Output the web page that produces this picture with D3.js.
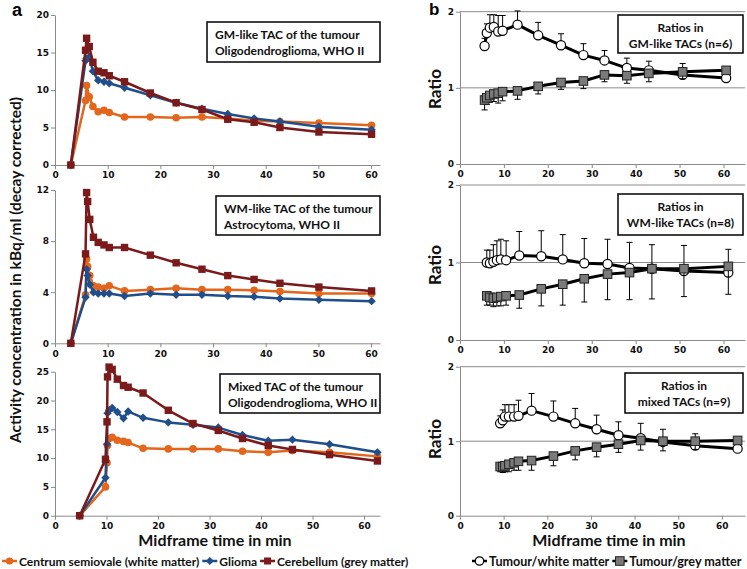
<!DOCTYPE html>
<html><head><meta charset="utf-8">
<script src="https://cdn.jsdelivr.net/npm/d3@7"></script>
<style>body{margin:0;background:#fff}svg{display:block}</style>
</head><body>
<script>
// ---------- DATA ----------
// Panel a: time-activity curves (kBq/ml)
const timeGM = [3, 5.8, 6.0, 6.5, 7.2, 8.2, 9.3, 10.3, 13.2, 18.1, 23.0, 27.9, 32.8, 37.8, 42.7, 50.1, 60.1];
const gmCentrum = [0, 8.6, 10.6, 9.1, 7.8, 7.1, 7.3, 7.0, 6.4, 6.4, 6.3, 6.4, 6.2, 5.9, 5.8, 5.6, 5.3];
const gmGlioma = [0, 13.9, 14.2, 14.4, 12.5, 11.3, 11.1, 10.9, 10.3, 9.3, 8.3, 7.5, 6.8, 6.2, 5.8, 5.1, 4.7];
const gmCerebellum = [0, 15.3, 16.9, 15.8, 13.7, 12.5, 12.3, 11.9, 11.1, 9.6, 8.3, 7.4, 6.1, 5.7, 5.0, 4.4, 4.1];

const timeWM = [3, 5.8, 6.0, 6.2, 6.6, 7.3, 8.2, 9.3, 10.3, 13.2, 18.1, 23.0, 27.9, 32.8, 37.8, 42.7, 50.1, 60.1];
const wmCentrum = [0, 3.8, 6.6, 6.0, 5.3, 4.5, 4.4, 4.3, 4.5, 4.1, 4.2, 4.3, 4.2, 4.2, 4.15, 4.05, 3.9, 3.9];
const wmGlioma = [0, 3.6, 5.8, 5.3, 4.6, 4.0, 3.9, 3.9, 3.9, 3.7, 3.9, 3.8, 3.8, 3.7, 3.65, 3.5, 3.4, 3.3];
const wmCerebellum = [0, 7.0, 11.8, 11.1, 9.7, 8.3, 7.9, 7.7, 7.5, 7.5, 6.9, 6.3, 5.8, 5.3, 5.0, 4.7, 4.4, 4.1];

const timeMix = [4.8, 9.8, 10.1, 10.2, 10.5, 11.1, 12.1, 13.3, 14.2, 17.1, 22.0, 26.8, 31.7, 36.4, 41.4, 46.1, 53.3, 62.6];
const mixCentrum = [0, 5.0, 9.2, 12.2, 13.4, 13.6, 13.1, 12.9, 12.7, 11.7, 11.6, 11.6, 11.6, 11.2, 11.0, 11.3, 11.0, 10.3];
const mixGlioma = [0, 6.6, 12.4, 17.8, 18.3, 18.7, 18.0, 16.9, 18.1, 17.0, 16.2, 15.8, 15.3, 14.0, 13.0, 13.2, 12.4, 11.0];
const mixCerebellum = [0, 9.8, 16.3, 24.1, 25.8, 25.4, 23.7, 22.6, 22.3, 21.3, 18.3, 16.0, 14.8, 13.4, 12.2, 11.5, 10.6, 9.5];

// Panel b: ratios (mean, SD)
const timeRGM = [5.6, 6.1, 6.8, 7.7, 8.7, 9.7, 13.1, 17.8, 23.0, 28.1, 32.9, 38.0, 43.0, 50.7, 60.6];
const rgmWhite = [1.55, 1.72, 1.79, 1.80, 1.74, 1.75, 1.83, 1.69, 1.56, 1.43, 1.36, 1.26, 1.23, 1.17, 1.13];
const rgmWhiteSD = [0.10, 0.12, 0.17, 0.16, 0.21, 0.20, 0.18, 0.17, 0.15, 0.15, 0.13, 0.13, 0.12, 0.15, 0.0];
const rgmGrey = [0.84, 0.87, 0.90, 0.92, 0.93, 0.95, 0.96, 1.02, 1.07, 1.09, 1.17, 1.16, 1.19, 1.21, 1.23];
const rgmGreySD = [0.13, 0.09, 0.09, 0.10, 0.13, 0.12, 0.11, 0.10, 0.09, 0.10, 0.09, 0.10, 0.11, 0.09, 0.0];

const timeRWM = [6.1, 6.8, 7.6, 8.4, 9.3, 10.5, 13.5, 18.5, 23.4, 28.3, 33.6, 38.6, 43.7, 51.0, 61.1];
const rwmWhite = [1.00, 0.99, 1.01, 1.03, 1.04, 1.03, 1.09, 1.08, 1.04, 0.99, 0.98, 0.93, 0.92, 0.89, 0.87];
const rwmWhiteSD = [0.16, 0.17, 0.22, 0.25, 0.26, 0.25, 0.31, 0.33, 0.32, 0.32, 0.32, 0.33, 0.31, 0.33, 0.30];
const rwmGrey = [0.57, 0.55, 0.54, 0.55, 0.56, 0.57, 0.58, 0.66, 0.72, 0.79, 0.85, 0.87, 0.92, 0.92, 0.95];
const rwmGreySD = [0.12, 0.10, 0.11, 0.11, 0.12, 0.12, 0.17, 0.22, 0.27, 0.30, 0.33, 0.35, 0.39, 0.36, 0.36];

const timeRMix = [9.2, 9.8, 10.3, 11.2, 12.4, 13.4, 16.4, 21.4, 26.4, 31.3, 36.3, 41.4, 46.5, 53.9, 63.6];
const rmixWhite = [1.24, 1.28, 1.33, 1.33, 1.33, 1.34, 1.41, 1.33, 1.24, 1.16, 1.08, 1.04, 0.99, 0.94, 0.90];
const rmixWhiteSD = [0.10, 0.14, 0.16, 0.16, 0.16, 0.21, 0.23, 0.21, 0.20, 0.19, 0.18, 0.20, 0.17, 0.16, 0.0];
const rmixGrey = [0.66, 0.66, 0.67, 0.69, 0.71, 0.73, 0.74, 0.80, 0.87, 0.92, 0.96, 1.01, 1.00, 1.00, 1.01];
const rmixGreySD = [0.07, 0.08, 0.08, 0.10, 0.10, 0.12, 0.13, 0.13, 0.12, 0.13, 0.11, 0.13, 0.13, 0.11, 0.0];

const xTicks = [0, 10, 20, 30, 40, 50, 60];
const yTicksGM = [0, 5, 10, 15, 20];
const yTicksWM = [0, 4, 8, 12];
const yTicksMix = [0, 5, 10, 15, 20, 25];
const yTicksRatio = [0, 1, 2];

const tacSeriesNames = ["Centrum semiovale (white matter)", "Glioma", "Cerebellum (grey matter)"];
const ratioSeriesNames = ["Tumour/white matter", "Tumour/grey matter"];
const boxTextsA = [["GM-like TAC of the tumour", "Oligodendroglioma, WHO II"],
                   ["WM-like TAC of the tumour", "Astrocytoma, WHO II"],
                   ["Mixed TAC of the tumour", "Oligodendroglioma, WHO II"]];
const boxTextsB = [["Ratios in", "GM-like TACs (n=6)"],
                   ["Ratios in", "WM-like TACs (n=8)"],
                   ["Ratios in", "mixed TACs (n=9)"]];

// ---------- STYLE ----------
const C_ORANGE = "#E2661C", C_BLUE = "#1F4E8A", C_RED = "#7A1A1A";
const TICKFONT = "'DejaVu Sans', Verdana, sans-serif";
const LABFONT = "Lato, 'Liberation Sans', sans-serif";
const AXISCOL = "#8a8a8a";

const svg = d3.select("body").append("svg").attr("width", 747).attr("height", 569)
  .style("background", "#fff");

function styleAxis(g) {
  g.select(".domain").attr("stroke", AXISCOL).attr("stroke-width", 1);
  g.selectAll(".tick line").attr("stroke", AXISCOL);
  g.selectAll(".tick text").attr("font-family", TICKFONT).attr("font-weight", "bold")
    .attr("font-size", 9).attr("fill", "#111");
}

function diamond(s) { return `M0,${-s}L${s},0L0,${s}L${-s},0Z`; }

function drawAxes(x, y, yTicks, grid) {
  const fmt = d3.format("d");
  const gx = svg.append("g").attr("transform", `translate(0,${y(0)})`)
    .call(d3.axisBottom(x).tickValues(xTicks).tickFormat(fmt).tickSize(4).tickPadding(3).tickSizeOuter(0));
  styleAxis(gx);
  const gy = svg.append("g").attr("transform", `translate(${x(0)},0)`)
    .call(d3.axisLeft(y).tickValues(yTicks).tickFormat(fmt).tickSize(4).tickPadding(2).tickSizeOuter(0));
  styleAxis(gy);
  if (grid) {
    yTicks.filter(t => t > 0).forEach(t => {
      svg.append("line").attr("x1", x(0)).attr("x2", x.range()[1])
        .attr("y1", y(t)).attr("y2", y(t)).attr("stroke", AXISCOL).attr("stroke-width", 1);
    });
  }
}

function drawTAC(lay, times, series, yTicks, box) {
  const x = d3.scaleLinear().domain([0, lay.xMax]).range([lay.x0, lay.x1]);
  const y = d3.scaleLinear().domain([0, yTicks[yTicks.length - 1]]).range([lay.y0, lay.y1]);
  drawAxes(x, y, yTicks, false);
  const line = d3.line().x(d => x(d[0])).y(d => y(d[1]));
  series.forEach(s => {
    const pts = times.map((t, i) => [t, s.values[i]]);
    svg.append("path").attr("d", line(pts)).attr("fill", "none")
      .attr("stroke", s.color).attr("stroke-width", 2.5).attr("stroke-linejoin", "round");
    const g = svg.append("g");
    pts.forEach(p => {
      if (s.shape === "circle") g.append("circle").attr("cx", x(p[0])).attr("cy", y(p[1])).attr("r", 3.8).attr("fill", s.color);
      else if (s.shape === "diamond") g.append("path").attr("d", diamond(4.2)).attr("transform", `translate(${x(p[0])},${y(p[1])})`).attr("fill", s.color);
      else g.append("rect").attr("x", x(p[0]) - 3.7).attr("y", y(p[1]) - 3.7).attr("width", 7.4).attr("height", 7.4).attr("fill", s.color);
    });
  });
  drawBox(lay.box, box, "start");
}

function drawRatio(lay, times, white, whiteSD, grey, greySD, box) {
  const x = d3.scaleLinear().domain([0, lay.xMax]).range([lay.x0, lay.x1]);
  const y = d3.scaleLinear().domain([0, 2]).range([lay.y0, lay.y1]);
  drawAxes(x, y, yTicksRatio, true);
  const line = d3.line().x(d => x(d[0])).y(d => y(d[1]));
  const cap = 3;
  const eb = svg.append("g").attr("stroke", "#000").attr("stroke-width", 1);
  times.forEach((t, i) => {
    if (whiteSD[i] > 0) {
      eb.append("line").attr("x1", x(t)).attr("x2", x(t)).attr("y1", y(white[i])).attr("y2", y(white[i] + whiteSD[i]));
      eb.append("line").attr("x1", x(t) - cap).attr("x2", x(t) + cap).attr("y1", y(white[i] + whiteSD[i])).attr("y2", y(white[i] + whiteSD[i]));
    }
  });
  svg.append("path").attr("d", line(times.map((t, i) => [t, white[i]]))).attr("fill", "none")
    .attr("stroke", "#000").attr("stroke-width", 3).attr("stroke-linejoin", "round");
  times.forEach((t, i) => {
    svg.append("circle").attr("cx", x(t)).attr("cy", y(white[i])).attr("r", 4.6)
      .attr("fill", "#fff").attr("stroke", "#000").attr("stroke-width", 1.2);
  });
  const eb2 = svg.append("g").attr("stroke", "#000").attr("stroke-width", 1);
  times.forEach((t, i) => {
    if (greySD[i] > 0) {
      eb2.append("line").attr("x1", x(t)).attr("x2", x(t)).attr("y1", y(grey[i])).attr("y2", y(grey[i] - greySD[i]));
      eb2.append("line").attr("x1", x(t) - cap).attr("x2", x(t) + cap).attr("y1", y(grey[i] - greySD[i])).attr("y2", y(grey[i] - greySD[i]));
    }
  });
  svg.append("path").attr("d", line(times.map((t, i) => [t, grey[i]]))).attr("fill", "none")
    .attr("stroke", "#000").attr("stroke-width", 3).attr("stroke-linejoin", "round");
  times.forEach((t, i) => {
    svg.append("rect").attr("x", x(t) - 4.3).attr("y", y(grey[i]) - 4.3).attr("width", 8.6).attr("height", 8.6)
      .attr("fill", "#7a7a7a").attr("stroke", "#222").attr("stroke-width", 1);
  });
  drawBox(lay.box, box, "middle");
}

function drawBox(b, lines, anchor) {
  svg.append("rect").attr("x", b[0]).attr("y", b[1]).attr("width", b[2]).attr("height", b[3])
    .attr("fill", "#fff").attr("stroke", "#000").attr("stroke-width", 1.5);
  const tx = anchor === "middle" ? b[0] + b[2] / 2 : b[0] + 8;
  lines.forEach((l, i) => {
    svg.append("text").attr("x", tx).attr("y", b[1] + 17 + i * 16).attr("text-anchor", anchor)
      .attr("font-family", LABFONT).attr("font-weight", "bold").attr("font-size", 12).attr("fill", "#111").text(l);
  });
}

// ---------- LAYOUT ----------
const layA1 = {x0: 55, x1: 380, xMax: 61.7, y0: 165, y1: 15, box: [207, 22, 173, 40]};
const layA2 = {x0: 55, x1: 380, xMax: 61.7, y0: 343.3, y1: 190, box: [216, 196, 164, 39]};
const layA3 = {x0: 55, x1: 380, xMax: 63.1, y0: 515.7, y1: 371.7, box: [220, 374, 160, 39]};
const layB1 = {x0: 460, x1: 745, xMax: 64.9, y0: 164, y1: 11.7, box: [618, 15, 125, 38]};
const layB2 = {x0: 460, x1: 745, xMax: 64.9, y0: 340, y1: 185, box: [618, 194, 125, 41]};
const layB3 = {x0: 460, x1: 745, xMax: 65.3, y0: 515.7, y1: 366.7, box: [625, 373, 118, 40]};

drawTAC(layA1, timeGM, [
  {values: gmCentrum, color: C_ORANGE, shape: "circle"},
  {values: gmGlioma, color: C_BLUE, shape: "diamond"},
  {values: gmCerebellum, color: C_RED, shape: "square"}], yTicksGM, boxTextsA[0]);
drawTAC(layA2, timeWM, [
  {values: wmCentrum, color: C_ORANGE, shape: "circle"},
  {values: wmGlioma, color: C_BLUE, shape: "diamond"},
  {values: wmCerebellum, color: C_RED, shape: "square"}], yTicksWM, boxTextsA[1]);
drawTAC(layA3, timeMix, [
  {values: mixCentrum, color: C_ORANGE, shape: "circle"},
  {values: mixGlioma, color: C_BLUE, shape: "diamond"},
  {values: mixCerebellum, color: C_RED, shape: "square"}], yTicksMix, boxTextsA[2]);

drawRatio(layB1, timeRGM, rgmWhite, rgmWhiteSD, rgmGrey, rgmGreySD, boxTextsB[0]);
drawRatio(layB2, timeRWM, rwmWhite, rwmWhiteSD, rwmGrey, rwmGreySD, boxTextsB[1]);
drawRatio(layB3, timeRMix, rmixWhite, rmixWhiteSD, rmixGrey, rmixGreySD, boxTextsB[2]);

// ---------- TITLES ----------
svg.append("text").attr("x", 12).attr("y", 16).attr("font-family", "'Liberation Sans', Arial, sans-serif")
  .attr("font-weight", "bold").attr("font-size", 18).text("a");
svg.append("text").attr("x", 429).attr("y", 15).attr("font-family", "'Liberation Sans', Arial, sans-serif")
  .attr("font-weight", "bold").attr("font-size", 17).text("b");

svg.append("text").attr("transform", "translate(21,270) rotate(-90)").attr("text-anchor", "middle")
  .attr("font-family", LABFONT).attr("font-weight", "bold").attr("font-size", 15.5).attr("fill", "#111")
  .text("Activity concentration in kBq/ml (decay corrected)");
[89, 265, 439].forEach(cy => {
  svg.append("text").attr("transform", `translate(441,${cy}) rotate(-90)`).attr("text-anchor", "middle")
    .attr("font-family", LABFONT).attr("font-weight", "bold").attr("font-size", 17).attr("fill", "#111").text("Ratio");
});
[215, 609].forEach(cx => {
  svg.append("text").attr("x", cx).attr("y", 546).attr("text-anchor", "middle")
    .attr("font-family", LABFONT).attr("font-weight", "bold").attr("font-size", 16).attr("fill", "#111")
    .text("Midframe time in min");
});

// ---------- LEGENDS ----------
function legendItem(xs, y, color, shape, label, fs) {
  svg.append("line").attr("x1", xs).attr("x2", xs + 15).attr("y1", y).attr("y2", y)
    .attr("stroke", color).attr("stroke-width", 2.5);
  const cx = xs + 7.5;
  if (shape === "circle") svg.append("circle").attr("cx", cx).attr("cy", y).attr("r", 3.6).attr("fill", color);
  else if (shape === "diamond") svg.append("path").attr("d", diamond(4)).attr("transform", `translate(${cx},${y})`).attr("fill", color);
  else if (shape === "square") svg.append("rect").attr("x", cx - 3.5).attr("y", y - 3.5).attr("width", 7).attr("height", 7).attr("fill", color);
  else if (shape === "ocircle") svg.append("circle").attr("cx", cx).attr("cy", y).attr("r", 4.2).attr("fill", "#fff").attr("stroke", "#000").attr("stroke-width", 1.2);
  else if (shape === "gsquare") svg.append("rect").attr("x", cx - 4.3).attr("y", y - 4.3).attr("width", 8.6).attr("height", 8.6).attr("fill", "#7a7a7a").attr("stroke", "#222");
  const t = svg.append("text").attr("x", xs + 17).attr("y", y + 4.5)
    .attr("font-family", LABFONT).attr("font-weight", "bold").attr("font-size", fs).attr("fill", "#111").text(label);
  return xs + 17 + t.node().getComputedTextLength() + 3;
}
let lx = 2;
lx = legendItem(lx, 561, C_ORANGE, "circle", tacSeriesNames[0], 12);
lx = legendItem(lx, 561, C_BLUE, "diamond", tacSeriesNames[1], 12);
lx = legendItem(lx, 561, C_RED, "square", tacSeriesNames[2], 12);
let rx = 472;
rx = legendItem(rx, 561, "#000", "ocircle", ratioSeriesNames[0], 12.6);
rx = legendItem(rx, 561, "#000", "gsquare", ratioSeriesNames[1], 12.6);
</script>
</body></html>
